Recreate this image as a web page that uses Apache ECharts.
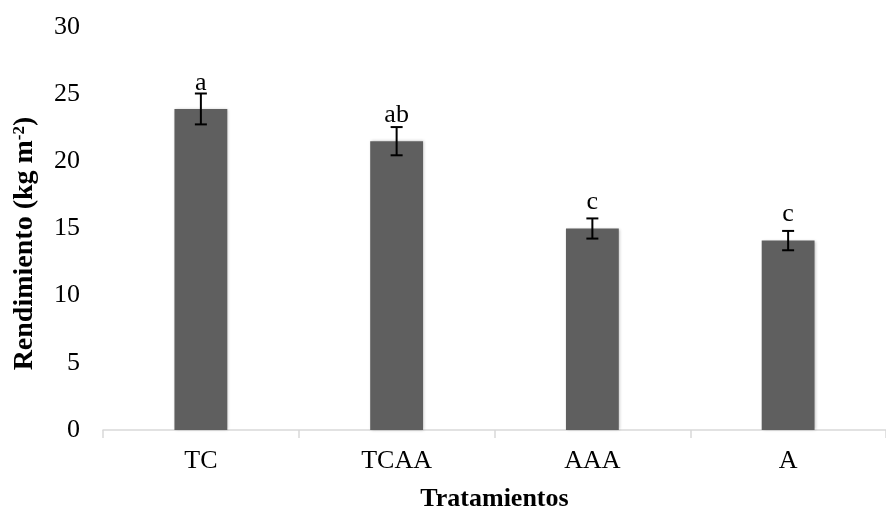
<!DOCTYPE html>
<html><head><meta charset="utf-8">
<script src="https://cdn.jsdelivr.net/npm/echarts@6/dist/echarts.min.js"></script>
<style>html,body{margin:0;padding:0;background:#fff}#c{width:886px;height:517px}</style>
</head><body><div id="c"></div>
<script>
var categories = ['TC', 'TCAA', 'AAA', 'A'];
var values = [23.9, 21.5, 15.0, 14.1];
var errors = [1.15, 1.05, 0.75, 0.72];
var letters = ['a', 'ab', 'c', 'c'];
var yTicks = [0, 5, 10, 15, 20, 25, 30];

var FONT = '"Liberation Serif", "Times New Roman", serif';
var chart = echarts.init(document.getElementById('c'));
chart.setOption({
  animation: false,
  grid: { left: 103, top: 27, width: 795, height: 411, containLabel: false },
  xAxis: {
    type: 'category', data: categories,
    axisLine: { lineStyle: { color: '#d9d9d9', width: 1.5 } },
    axisTick: { show: true, length: 8, lineStyle: { color: '#d9d9d9', width: 1.5 } },
    axisLabel: { color: '#000', fontFamily: FONT, fontSize: 26, margin: 18 },
    name: 'Tratamientos', nameLocation: 'middle', nameGap: 56,
    nameTextStyle: { color: '#000', fontFamily: FONT, fontSize: 26, fontWeight: 'bold' }
  },
  yAxis: {
    type: 'value', min: yTicks[0], max: yTicks[yTicks.length - 1], interval: 5,
    axisLine: { show: false }, axisTick: { show: false }, splitLine: { show: false },
    axisLabel: { color: '#000', fontFamily: FONT, fontSize: 26, margin: 23 },
    name: '{a|Rendimiento (kg m}{s|-2}{a|)}', nameLocation: 'middle', nameGap: 64, nameRotate: 90,
    nameTextStyle: {
      padding: [0, 30, 0, 0],
      rich: {
        a: { color: '#000', fontFamily: FONT, fontSize: 28, fontWeight: 'bold' },
        s: { color: '#000', fontFamily: FONT, fontSize: 17, fontWeight: 'bold', verticalAlign: 'top', padding: [0, 0, 10, 0] }
      }
    }
  },
  series: [{
    type: 'bar', data: values, barWidth: '27%',
    itemStyle: { color: '#5f5f5f', shadowColor: 'rgba(0,0,0,0.25)', shadowBlur: 3, shadowOffsetX: 1, shadowOffsetY: 0 },
    label: {
      show: true, position: 'top', distance: 13,
      formatter: function (p) { return letters[p.dataIndex]; },
      color: '#000', fontFamily: FONT, fontSize: 26
    }
  }, {
    type: 'custom', z: 10,
    data: values.map(function (v, i) { return [i, v - errors[i], v + errors[i]]; }),
    renderItem: function (params, api) {
      var lo = api.coord([api.value(0), api.value(1)]);
      var hi = api.coord([api.value(0), api.value(2)]);
      var hw = 6;
      var st = { stroke: '#000', lineWidth: 2 };
      return { type: 'group', children: [
        { type: 'line', shape: { x1: lo[0], y1: lo[1], x2: hi[0], y2: hi[1] }, style: st },
        { type: 'line', shape: { x1: lo[0] - hw, y1: lo[1], x2: lo[0] + hw, y2: lo[1] }, style: st },
        { type: 'line', shape: { x1: hi[0] - hw, y1: hi[1], x2: hi[0] + hw, y2: hi[1] }, style: st }
      ] };
    }
  }]
});
</script></body></html>
